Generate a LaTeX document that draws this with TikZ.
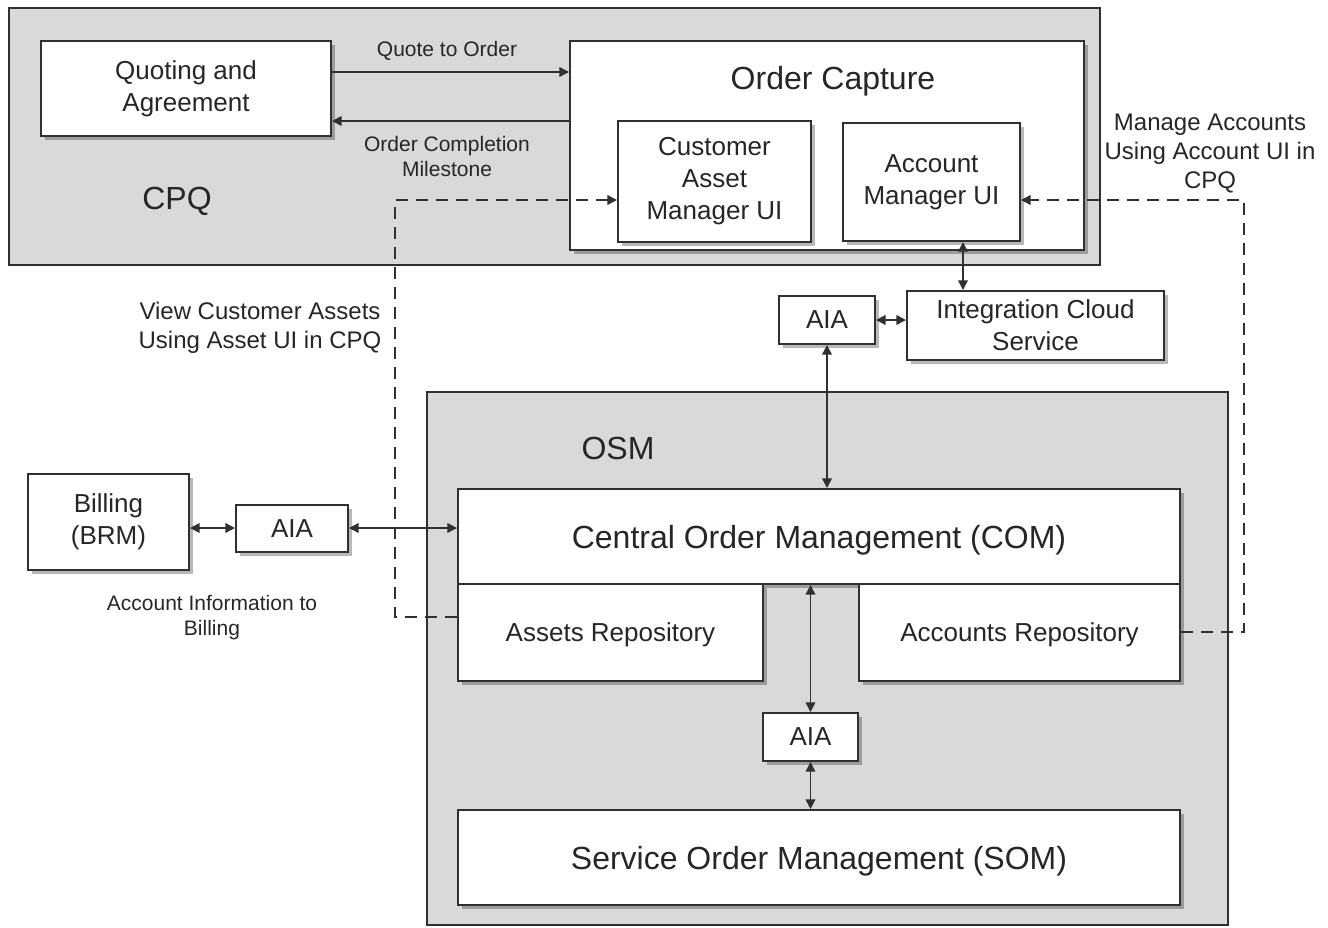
\documentclass[tikz,border=0pt]{standalone}
\usepackage{fontspec}
\setmainfont{Liberation Sans}
\usetikzlibrary{arrows.meta,shadows}
\definecolor{txt}{HTML}{262626}
\definecolor{ln}{HTML}{303030}
\definecolor{cont}{HTML}{D9D9D9}
\begin{document}
\begin{tikzpicture}[x=0.5pt,y=-0.5pt,
  container/.style={draw=ln, line width=1pt, fill=cont, inner sep=0pt},
  box/.style={draw=ln, line width=1pt, fill=white, align=center, text=txt, inner sep=0pt,
    font=\fontsize{13}{16}\selectfont,
    drop shadow={shadow xshift=2.2pt, shadow yshift=-2.2pt, fill=black, opacity=0.28}},
  bigtext/.style={font=\fontsize{16}{19}\selectfont},
  lbl/.style={text=txt, align=center, inner sep=0pt, font=\fontsize{10.5}{12.5}\selectfont},
  lblb/.style={text=txt, align=center, inner sep=0pt, font=\fontsize{12}{14.5}\selectfont},
  tip/.tip={Triangle[length=4.8pt,width=4.8pt]},
  arr/.style={draw=ln, line width=0.8pt, -tip},
  barr/.style={draw=ln, line width=0.8pt, tip-tip},
  dline/.style={draw=ln, line width=0.8pt, dash pattern=on 6pt off 4pt}
]
\useasboundingbox (0,0) rectangle (1328,927);

% containers
\node[container, minimum width=545.5pt, minimum height=128.5pt] (cpq) at (554.5,136.5) {};
\node[container, minimum width=400.5pt, minimum height=266.5pt] (osm) at (827.5,658.5) {};

\node[bigtext, text=txt] (cpqlbl) at (177,201) {CPQ};
\node[bigtext, text=txt] (osmlbl) at (618,448) {OSM};

% CPQ boxes
\node[box, minimum width=145pt, minimum height=47.5pt] (qa) at (186,88.5) {Quoting and\\Agreement};
\node[box, minimum width=257pt, minimum height=104.5pt] (oc) at (827,145.5) {};
\node[bigtext, text=txt] (oclbl) at (833,81) {Order Capture};
\node[box, minimum width=96.5pt, minimum height=60.5pt] (cam) at (714.5,181.5) {Customer\\Asset\\Manager UI};
\node[box, minimum width=88.5pt, minimum height=59pt] (amu) at (931.5,182) {Account\\Manager UI};

% integration
\node[box, minimum width=128.5pt, minimum height=34.5pt] (ics) at (1035.5,325.5) {Integration Cloud\\Service};
\node[box, minimum width=48pt, minimum height=24pt] (aia1) at (827,320) {AIA};

% OSM boxes
\node[box, minimum width=361pt, minimum height=47.5pt, bigtext, text depth=0pt] (com) at (819,536.5) {Central Order Management (COM)};
\node[box, minimum width=152.5pt, minimum height=48.5pt, text depth=0pt] (ar) at (610.5,632.5) {Assets Repository};
\node[box, minimum width=160.5pt, minimum height=48.5pt, text depth=0pt] (acr) at (1019.5,632.5) {Accounts Repository};
\node[box, minimum width=47.5pt, minimum height=24pt] (aia2) at (810.5,737) {AIA};
\node[box, minimum width=361pt, minimum height=47.5pt, bigtext, text depth=0pt] (som) at (819,857.5) {Service Order Management (SOM)};

% billing
\node[box, minimum width=80.5pt, minimum height=48pt] (brm) at (108.5,522) {Billing\\(BRM)};
\node[box, minimum width=56pt, minimum height=23.5pt] (aia3) at (292,528.5) {AIA};

% labels
\node[lbl] (l1) at (447,51) {Quote to Order};
\node[lbl] (l2) at (447,156) {Order Completion\\Milestone};
\node[lblb] (l3) at (260,328) {View Customer Assets\\Using Asset UI in CPQ};
\node[lblb] (l4) at (1210,154) {Manage Accounts\\Using Account UI in\\CPQ};
\node[lbl] (l5) at (212,618) {Account Information to\\Billing};

% helper coordinates
\coordinate (y72) at (0,72);
\coordinate (y121) at (0,121);
\coordinate (x963) at (963,0);
\coordinate (y528) at (0,528);
\coordinate (y200) at (0,200);
\coordinate (y617) at (0,617);
\coordinate (y632) at (0,632);
\coordinate (dl1) at (395,617);
\coordinate (dl2) at (395,200);
\coordinate (dr1) at (1244,632);
\coordinate (dr2) at (1244,200);

% arrows
\draw[arr] (qa.east |- y72) -- (oc.west |- y72);
\draw[arr] (oc.west |- y121) -- (qa.east |- y121);
\draw[barr] (amu.south -| x963) -- (ics.north -| x963);
\draw[barr] (aia1.east) -- (ics.west |- aia1.east);
\draw[barr] (aia1.south) -- (aia1.south |- com.north);
\draw[barr] (aia2.north |- com.south) -- (aia2.north);
\draw[barr] (aia2.south) -- (aia2.south |- som.north);
\draw[barr] (brm.east |- y528) -- (aia3.west |- y528);
\draw[barr] (aia3.east |- y528) -- (com.west |- y528);

% dashed connectors
\draw[dline, -tip] (ar.west |- y617) -- (dl1) -- (dl2) -- (cam.west |- y200);
\draw[dline, -tip] (acr.east |- y632) -- (dr1) -- (dr2) -- (amu.east |- y200);
\end{tikzpicture}
\end{document}
